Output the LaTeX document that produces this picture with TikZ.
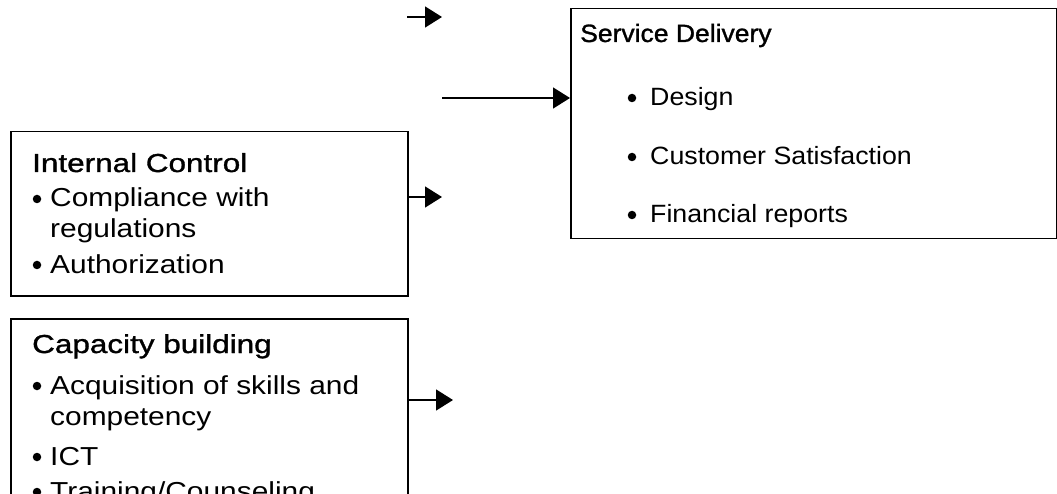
\documentclass[tikz,border=0pt]{standalone}
\usepackage{fontspec}
\setmainfont{Liberation Sans}[FakeStretch=1.07]
\newfontfamily\headfont{Liberation Sans}[FakeStretch=1.06,FakeBold=1.2]
\newfontfamily\sidefont{Liberation Sans}[FakeStretch=1.15]
\newfontfamily\sideheadfont{Liberation Sans}[FakeStretch=1.21,FakeBold=1.2]
\usetikzlibrary{arrows.meta}
\begin{document}
\begin{tikzpicture}[x=1pt,y=-1pt,
  box/.style={draw=black,line width=1.5pt,fill=none,inner sep=0pt,anchor=north west},
  txt/.style={anchor=base west,inner sep=0pt,font=\fontsize{25}{30}\selectfont},
  head/.style={anchor=base west,inner sep=0pt,font=\headfont\fontsize{25}{30}\selectfont},
  stxt/.style={anchor=base west,inner sep=0pt,font=\sidefont\fontsize{26}{30}\selectfont},
  shead/.style={anchor=base west,inner sep=0pt,font=\sideheadfont\fontsize{26}{30}\selectfont},
  dot/.style={circle,fill=black,inner sep=0pt,minimum size=8.5pt},
  link/.style={line width=1.5pt,-{Triangle[length=17pt,width=21pt]}}]
\useasboundingbox (0,0) rectangle (1057,494);
\clip (0,0) rectangle (1057,494);

% boxes
\node[box,minimum width=397pt,minimum height=164pt] (ic) at (10,131) {};
\node[box,minimum width=397pt,minimum height=240pt] (cb) at (10,318) {};
\node[box,minimum width=486pt,minimum height=230pt] (sd) at (570,8) {};

% Internal Control
\node[shead] (ich) at (32,172) {Internal Control};
\node[dot] (icb1) at (37,199) {};
\node[stxt] (ic1) at (50,207) {Compliance with};
\node[stxt] (ic1b) at (50,238) {regulations};
\node[dot] (icb2) at (37,265) {};
\node[stxt] (ic2) at (50,273) {Authorization};

% Capacity building
\node[shead] (cbh) at (32,353) {Capacity building};
\node[dot] (cbb1) at (37,386) {};
\node[stxt] (cb1) at (50,394) {Acquisition of skills and};
\node[stxt] (cb1b) at (50,425) {competency};
\node[dot] (cbb2) at (37,457) {};
\node[stxt] (cb2) at (50,465) {ICT};
\node[dot] (cbb3) at (37,492) {};
\node[stxt] (cb3) at (50,500) {Training/Counseling};

% Service Delivery
\node[head] (sdh) at (580,42) {Service Delivery};
\node[dot] (sdb1) at (632,98) {};
\node[txt] (sd1) at (650,106) {Design};
\node[dot] (sdb2) at (632,157) {};
\node[txt] (sd2) at (650,165) {Customer Satisfaction};
\node[dot] (sdb3) at (632,215) {};
\node[txt] (sd3) at (650,223) {Financial reports};

% connectors
\coordinate (t0) at (407,17);
\coordinate (t1) at (442,17);
\coordinate (m0) at (442,98);
\coordinate (icend) at (442,197);
\coordinate (cbend) at (453,400);
\draw[link] (t0) -- (t1);
\draw[link] (m0) -- (m0 -| sd.west);
\draw[link] (icend -| ic.east) -- (icend);
\draw[link] (cbend -| cb.east) -- (cbend);
\end{tikzpicture}
\end{document}
